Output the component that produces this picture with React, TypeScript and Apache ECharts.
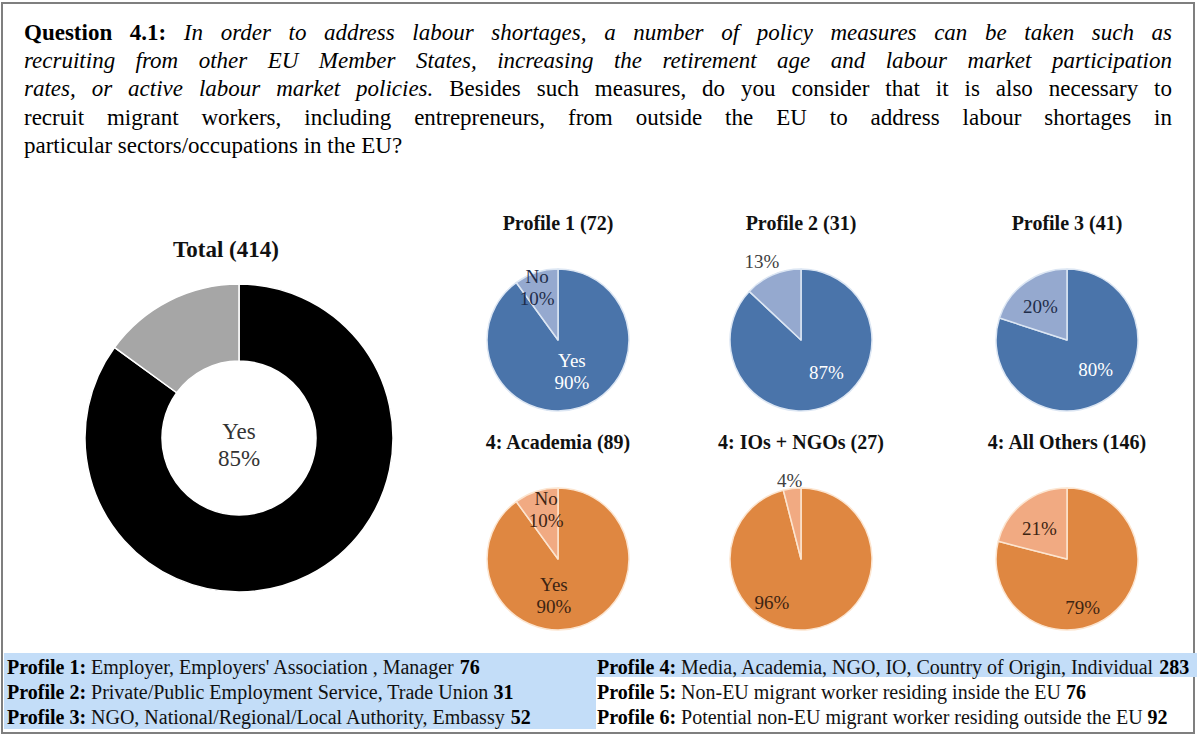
import React, { useEffect, useRef } from 'react';
import * as echarts from 'echarts';

const FONT = '"Liberation Serif", "Times New Roman", serif';

// ---------- data ----------
const headerLines: Array<Array<[string, 'b' | 'i' | 'n']>> = [
  [['Question 4.1:', 'b'], ['In order to address labour shortages, a number of policy measures can be taken such as', 'i']],
  [['recruiting from other EU Member States, increasing the retirement age and labour market participation', 'i']],
  [['rates, or active labour market policies.', 'i'], ['Besides such measures, do you consider that it is also necessary to', 'n']],
  [['recruit migrant workers, including entrepreneurs, from outside the EU to address labour shortages in', 'n']],
  [['particular sectors/occupations in the EU?', 'n']],
];
const headerJustify = [true, true, true, true, false];

const totalTitle = 'Total (414)';
const totalCategories = ['Yes', 'No'];
const totalValues = [85, 15];

const pieTitles = ['Profile 1 (72)', 'Profile 2 (31)', 'Profile 3 (41)', '4: Academia (89)', '4: IOs + NGOs (27)', '4: All Others (146)'];
const pieCategories = ['Yes', 'No'];
const yesValues = [90, 87, 80, 90, 96, 79];
const noValues = [10, 13, 20, 10, 4, 21];
const showCategoryName = [true, false, false, true, false, false];
const noLabelOutside = [false, true, false, false, true, false];

const legendLabels = ['Profile 1:', 'Profile 2:', 'Profile 3:', 'Profile 4:', 'Profile 5:', 'Profile 6:'];
const legendDescriptions = [
  "Employer, Employers' Association , Manager",
  'Private/Public Employment Service, Trade Union',
  'NGO, National/Regional/Local Authority, Embassy',
  'Media, Academia, NGO, IO, Country of Origin, Individual',
  'Non-EU migrant worker residing inside the EU',
  'Potential non-EU migrant worker residing outside the EU',
];
const legendCounts = [76, 31, 52, 283, 76, 92];

// ---------- layout / style ----------
const W = 1197;
const H = 740;
const HEADER_SIZE = 23;
const HEADER_LEFT = 24;
const HEADER_RIGHT = 1172;
const HEADER_Y = [32, 60, 88, 117, 145];

const pieCenters: Array<[number, number]> = [
  [558, 340], [801, 340], [1067, 340],
  [558, 559], [801, 559], [1067, 559],
];
const PIE_R = 71;
const titleY = [223, 223, 223, 442, 442, 442];
// label nudges [yes, no] per small pie (pixels)
const labelNudges: Array<Array<[number, number]>> = [
  [[2, -5], [-9, -16]],
  [[10, -3], [14, -8]],
  [[6, -2], [-4, -2]],
  [[-16, 0], [0, -13]],
  [[-34, 5], [16, -2]],
  [[-8, 18], [-4, 0]],
];

const BLUE = { dark: '#4a74aa', light: '#95a9cf', border: '#dce6f3', yesText: '#ffffff', noText: '#1f2d4a' };
const ORANGE = { dark: '#df8741', light: '#f1aa82', border: '#fce5d0', yesText: '#3d2412', noText: '#3d2412' };

function txt(x: number, y: number, text: string, font: string, fill = '#000', align = 'left', extra: any = {}) {
  return {
    type: 'text',
    x,
    y,
    silent: true,
    style: {
      text,
      font,
      fill,
      align,
      textAlign: align,
      verticalAlign: 'middle',
      textVerticalAlign: 'middle',
      ...extra,
    },
  };
}

function buildHeader(): any[] {
  const canvas = document.createElement('canvas');
  const ctx = canvas.getContext('2d')!;
  const fontOf = (s: string) =>
    `${s === 'i' ? 'italic' : 'normal'} ${s === 'b' ? 'bold' : 'normal'} ${HEADER_SIZE}px ${FONT}`;
  const out: any[] = [];
  headerLines.forEach((runs, li) => {
    const words: Array<{ w: string; s: string; width: number }> = [];
    runs.forEach(([t, s]) => {
      t.split(' ').forEach((w) => {
        ctx.font = fontOf(s);
        words.push({ w, s, width: ctx.measureText(w).width });
      });
    });
    ctx.font = fontOf('n');
    const space = ctx.measureText(' ').width;
    const sum = words.reduce((a, b) => a + b.width, 0);
    const gap = headerJustify[li] && words.length > 1 ? (HEADER_RIGHT - HEADER_LEFT - sum) / (words.length - 1) : space;
    let x = HEADER_LEFT;
    words.forEach((wd) => {
      out.push(txt(x, HEADER_Y[li], wd.w, fontOf(wd.s)));
      x += wd.width + gap;
    });
  });
  return out;
}

export default function App() {
  const ref = useRef<HTMLDivElement>(null);

  useEffect(() => {
    if (!ref.current) return;
    const chart = echarts.init(ref.current, undefined, { renderer: 'svg' });

    const graphics: any[] = [];
    graphics.push({
      type: 'rect',
      silent: true,
      shape: { x: 2, y: 3, width: 1192, height: 730 },
      style: { fill: '#fff', stroke: '#7f7f7f', lineWidth: 2 },
    });
    graphics.push({
      type: 'rect', silent: true,
      shape: { x: 4, y: 653, width: 592, height: 76 },
      style: { fill: '#c3ddf8' },
    });
    graphics.push({
      type: 'rect', silent: true,
      shape: { x: 596, y: 653, width: 601, height: 24 },
      style: { fill: '#c3ddf8' },
    });

    graphics.push(...buildHeader());

    graphics.push(txt(226, 249, totalTitle, `bold 23px ${FONT}`, '#111', 'center'));
    pieTitles.forEach((t, i) => {
      graphics.push(txt(pieCenters[i][0], titleY[i], t, `bold 20px ${FONT}`, '#111', 'center'));
    });

    const legendRich = {
      b: { fontFamily: FONT, fontSize: 20, fontWeight: 'bold', fill: '#000', color: '#000' },
    };
    legendLabels.forEach((lab, i) => {
      const col = i < 3 ? 0 : 1;
      const row = i % 3;
      const x = col === 0 ? 7 : 597;
      const y = [667, 692, 717][row];
      graphics.push(
        txt(x, y, `{b|${lab}} ${legendDescriptions[i]} {b|${legendCounts[i]}}`, `20px ${FONT}`, '#111', 'left', {
          rich: legendRich,
        })
      );
    });

    const series: any[] = [];
    series.push({
      type: 'pie',
      center: [239, 438],
      radius: [77, 154],
      startAngle: 90,
      clockwise: true,
      silent: true,
      avoidLabelOverlap: false,
      itemStyle: { borderColor: '#ffffff', borderWidth: 1.5 },
      labelLine: { show: false },
      labelLayout: () => ({ dy: 7 }),
      data: totalCategories.map((c, k) => ({
        name: c,
        value: totalValues[k],
        itemStyle: { color: k === 0 ? '#000000' : '#a6a6a6' },
        label:
          k === 0
            ? {
                show: true,
                position: 'center',
                formatter: '{b}\n{c}%',
                fontFamily: FONT,
                fontSize: 23,
                lineHeight: 27,
                color: '#333',
              }
            : { show: false },
      })),
    });

    pieTitles.forEach((_, i) => {
      const pal = i < 3 ? BLUE : ORANGE;
      const fmt = showCategoryName[i] ? '{b}\n{c}%' : '{c}%';
      const vals = [yesValues[i], noValues[i]];
      series.push({
        type: 'pie',
        center: pieCenters[i],
        radius: PIE_R,
        startAngle: 90,
        clockwise: true,
        silent: true,
        avoidLabelOverlap: false,
        itemStyle: { borderColor: pal.border, borderWidth: 1.5 },
        labelLine: { show: false, length: 6, length2: 0 },
        label: { formatter: fmt, fontFamily: FONT, fontSize: 19, lineHeight: 22 },
        labelLayout: (p: any) => {
          const n = labelNudges[i][p.dataIndex] || [0, 0];
          return { dx: n[0], dy: n[1] };
        },
        data: pieCategories.map((c, k) => ({
          name: c,
          value: vals[k],
          itemStyle: { color: k === 0 ? pal.dark : pal.light },
          label:
            k === 1 && noLabelOutside[i]
              ? { show: true, position: 'outside', color: '#404040' }
              : { show: true, position: 'inside', color: k === 0 ? pal.yesText : pal.noText },
        })),
      });
    });

    chart.setOption({
      animation: false,
      backgroundColor: '#ffffff',
      graphic: { elements: graphics },
      series,
    });

    return () => chart.dispose();
  }, []);

  return <div ref={ref} style={{ position: 'absolute', left: 0, top: 0, width: W, height: H }} />;
}
